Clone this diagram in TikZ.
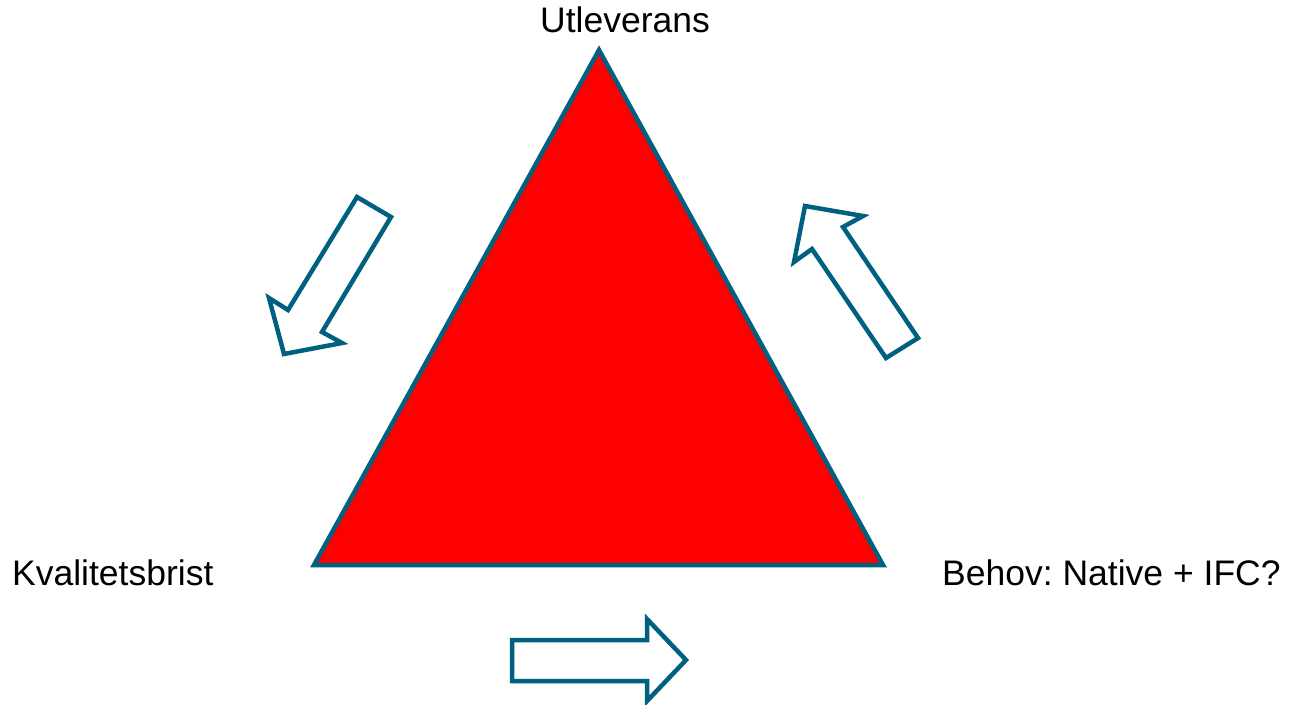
\documentclass[tikz,border=0pt]{standalone}
\usepackage{fontspec}
\setmainfont{Liberation Sans}
\definecolor{teal}{RGB}{0,96,128}
\definecolor{tri}{RGB}{255,0,0}
\tikzset{
  blockarrow/.style={draw=teal, line width=4.5pt, fill=white, line join=miter},
  label/.style={inner sep=0pt, font=\fontsize{35.5}{42}\selectfont\frenchspacing, anchor=base west}
}
\begin{document}
\begin{tikzpicture}[x=1pt,y=-1pt]
\useasboundingbox (0,0) rectangle (1289,704);
% triangle
\coordinate (top) at (599,50);
\coordinate (bl) at (314,565);
\coordinate (br) at (883,565);
\draw[draw=teal, line width=4.5pt, fill=tri, line join=miter] (top) -- (br) -- (bl) -- cycle;
% labels
\node[label] (utl) at (540,32) {Utleverans};
\node[label] (kval) at (12,585) {Kvalitetsbrist};
\node[label] (beh) at (942,585) {Behov: Native + IFC?};
% left arrow (pointing down-left)
\draw[blockarrow] (357,197) -- (391,217) -- (322,332) -- (342,343) -- (284,354) -- (269,298) -- (288,310) -- cycle;
% right arrow (pointing up-left)
\draw[blockarrow] (886,358) -- (918,338) -- (843,227) -- (863,216) -- (805,206) -- (794,262) -- (812,249) -- cycle;
% bottom arrow (pointing right)
\draw[blockarrow] (512,640) -- (647,640) -- (647,619) -- (686,660) -- (647,701) -- (647,681) -- (512,681) -- cycle;
\end{tikzpicture}
\end{document}
